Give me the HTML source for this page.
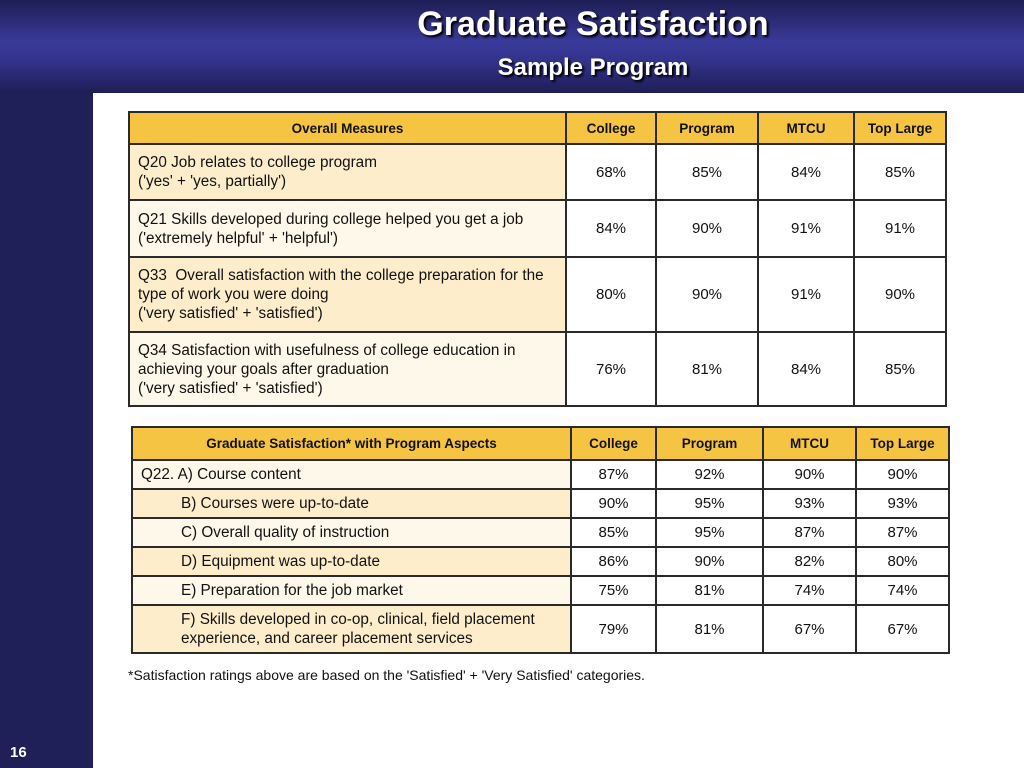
<!DOCTYPE html>
<html><head><meta charset="utf-8"><style>
*{margin:0;padding:0;box-sizing:border-box}
body{width:1024px;height:768px;position:relative;overflow:hidden;background:#fff;font-family:"Liberation Sans",sans-serif;color:#111}
#banner{position:absolute;left:0;top:0;width:1024px;height:93px;background:linear-gradient(#1e1e55 0%,#3a3a9a 45%,#33338c 65%,#1e1e55 100%)}
#side{position:absolute;left:0;top:93px;width:93px;height:675px;background:#1f2057}
#t1{position:absolute;left:393px;top:5px;width:400px;text-align:center;color:#fff;font-weight:bold;font-size:34px;text-shadow:2px 2px 2px #000}
#t2{position:absolute;left:393px;top:54px;width:400px;text-align:center;color:#fff;font-weight:bold;font-size:24px;text-shadow:2px 2px 2px #000}
#pg{position:absolute;left:10px;top:744px;color:#fff;font-weight:bold;font-size:15px}
table{position:absolute;border-collapse:collapse;table-layout:fixed}
td,th{border:2px solid #2a2a2a;font-size:15px;text-align:center;background:#fff;line-height:19px}
th{background:#f5c443;font-size:13.5px;font-weight:bold}
td.l{text-align:left;padding-left:8px;padding-right:6px;font-size:15.3px}
.a{background:#fdedcb!important}.b{background:#fef8ea!important}
.i{padding-left:48px!important}
#note{position:absolute;left:128px;top:667px;font-size:14px}
</style></head><body>
<div id="banner"></div>
<div id="side"></div>
<div id="t1">Graduate Satisfaction</div>
<div id="t2">Sample Program</div>
<table style="left:128px;top:111px;width:817px">
<colgroup><col style="width:437px"><col style="width:90px"><col style="width:102px"><col style="width:96px"><col style="width:92px"></colgroup>
<tr style="height:32px"><th>Overall Measures</th><th>College</th><th>Program</th><th>MTCU</th><th>Top Large</th></tr>
<tr style="height:56px"><td class="l a">Q20 Job relates to college program<br>('yes' + 'yes, partially')</td><td>68%</td><td>85%</td><td>84%</td><td>85%</td></tr>
<tr style="height:57px"><td class="l b">Q21 Skills developed during college helped you get a job<br>('extremely helpful' + 'helpful')</td><td>84%</td><td>90%</td><td>91%</td><td>91%</td></tr>
<tr style="height:75px"><td class="l a">Q33&nbsp; Overall satisfaction with the college preparation for the<br>type of work you were doing<br>('very satisfied' + 'satisfied')</td><td>80%</td><td>90%</td><td>91%</td><td>90%</td></tr>
<tr style="height:74px"><td class="l b">Q34 Satisfaction with usefulness of college education in<br>achieving your goals after graduation<br>('very satisfied' + 'satisfied')</td><td>76%</td><td>81%</td><td>84%</td><td>85%</td></tr>
</table>
<table style="left:131px;top:426px;width:817px">
<colgroup><col style="width:439px"><col style="width:85px"><col style="width:107px"><col style="width:93px"><col style="width:93px"></colgroup>
<tr style="height:33px"><th>Graduate Satisfaction* with Program Aspects</th><th>College</th><th>Program</th><th>MTCU</th><th>Top Large</th></tr>
<tr style="height:29px"><td class="l b">Q22. A) Course content</td><td>87%</td><td>92%</td><td>90%</td><td>90%</td></tr>
<tr style="height:29px"><td class="l a i">B) Courses were up-to-date</td><td>90%</td><td>95%</td><td>93%</td><td>93%</td></tr>
<tr style="height:29px"><td class="l b i">C) Overall quality of instruction</td><td>85%</td><td>95%</td><td>87%</td><td>87%</td></tr>
<tr style="height:29px"><td class="l a i">D) Equipment was up-to-date</td><td>86%</td><td>90%</td><td>82%</td><td>80%</td></tr>
<tr style="height:29px"><td class="l b i">E) Preparation for the job market</td><td>75%</td><td>81%</td><td>74%</td><td>74%</td></tr>
<tr style="height:48px"><td class="l a i">F) Skills developed in co-op, clinical, field placement<br>experience, and career placement services</td><td>79%</td><td>81%</td><td>67%</td><td>67%</td></tr>
</table>
<div id="note">*Satisfaction ratings above are based on the 'Satisfied' + 'Very Satisfied' categories.</div>
<div id="pg">16</div>
</body></html>
